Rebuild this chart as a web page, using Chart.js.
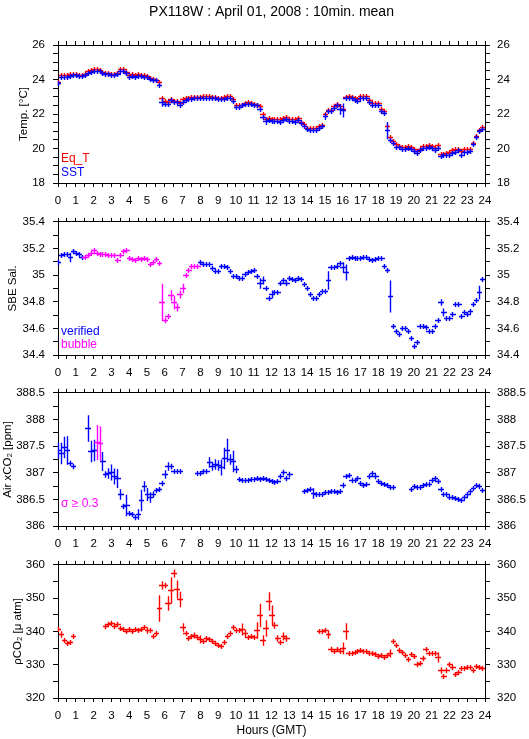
<!DOCTYPE html>
<html>
<head>
<meta charset="utf-8" />
<script src="https://cdn.jsdelivr.net/npm/chart.js@4.4.1/dist/chart.umd.min.js"></script>
<style>
  body { margin: 0; background: #fff; width: 529px; height: 739px; position: relative; overflow: hidden; }
  canvas { position: absolute; left: 0; }
</style>
</head>
<body>
<canvas id="temp" width="529" height="207" style="top:0px"></canvas>
<canvas id="sal" width="529" height="171" style="top:207px"></canvas>
<canvas id="xco2" width="529" height="172" style="top:378px"></canvas>
<canvas id="pco2" width="529" height="189" style="top:550px"></canvas>
<script>
// sample times, minutes since 00:00 GMT (10 min means)
const minutes = [
  0,10,20,30,40,50, 60,70,80,90,100,110, 120,130,140,150,160,170, 180,190,200,210,220,230,
  240,250,260,270,280,290, 300,310,320,330,340,350, 360,370,380,390,400,410, 420,430,440,450,460,470,
  480,490,500,510,520,530, 540,550,560,570,580,590, 600,610,620,630,640,650, 660,670,680,690,700,710,
  720,730,740,750,760,770, 780,790,800,810,820,830, 840,850,860,870,880,890, 900,910,920,930,940,950,
  960,970,980,990,1000,1010, 1020,1030,1040,1050,1060,1070, 1080,1090,1100,1110,1120,1130, 1140,1150,1160,1170,1180,1190,
  1200,1210,1220,1230,1240,1250, 1260,1270,1280,1290,1300,1310, 1320,1330,1340,1350,1360,1370, 1380,1390,1400,1410,1420,1430
];

// Eq_T [degC]
const eqtValues = [
  23.85,24.25,24.25,24.25,24.3,24.3,  24.3,24.25,24.25,24.3,24.5,24.55,  24.6,24.6,24.55,24.45,24.4,24.35,
  24.3,24.3,24.4,24.6,24.6,24.45,  24.25,24.3,24.25,24.3,24.25,24.25,  24.2,24.1,24.05,24.0,23.85,22.9,
  22.75,22.7,22.85,22.75,22.75,22.65,  22.85,22.9,22.95,23.0,23.0,23.0,  23.0,23.05,23.05,23.05,23.0,23.0,
  22.95,22.95,23.0,23.05,23.05,22.85,  22.5,22.5,22.55,22.65,22.7,22.65,  22.6,22.55,22.45,22.0,21.7,21.75,
  21.7,21.7,21.7,21.7,21.75,21.85,  21.7,21.7,21.7,21.75,21.55,21.4,  21.2,21.2,21.2,21.2,21.3,21.35,
  22.0,22.25,22.25,22.45,22.6,22.45,  22.3,23.0,23.05,23.0,22.9,22.85,  23.05,23.05,23.05,22.8,22.65,22.65,
  22.65,22.3,22.15,21.3,20.65,20.45,  20.25,20.15,20.1,20.1,20.15,20.1,  19.95,19.85,20.0,20.15,20.15,20.2,
  20.15,20.05,20.2,19.7,19.7,19.75,  19.8,19.9,20.0,20.0,19.85,19.95,  19.95,20.0,20.3,20.7,21.05,21.25
];
// SST [degC]
const sstValues = [
  23.8,24.15,24.15,24.15,24.2,24.25,  24.25,24.2,24.2,24.25,24.4,24.45,  24.5,24.5,24.5,24.4,24.3,24.3,
  24.25,24.25,24.3,24.5,24.5,24.4,  24.15,24.2,24.15,24.2,24.2,24.15,  24.15,24.05,24.0,23.95,23.7,22.7,
  22.6,22.6,22.8,22.7,22.7,22.55,  22.7,22.8,22.85,22.85,22.9,22.9,  22.9,22.9,22.95,22.95,22.95,22.9,
  22.85,22.85,22.85,22.95,22.9,22.75,  22.4,22.4,22.5,22.6,22.6,22.6,  22.5,22.5,22.3,21.85,21.6,21.65,
  21.6,21.6,21.6,21.55,21.65,21.7,  21.6,21.6,21.55,21.65,21.45,21.3,  21.15,21.1,21.1,21.1,21.2,21.3,
  21.9,22.2,22.2,22.35,22.5,22.3,  22.25,22.9,22.95,22.9,22.8,22.75,  22.95,22.95,22.95,22.7,22.5,22.5,
  22.5,22.2,22.05,21.1,20.5,20.3,  20.1,20.1,20.0,20.0,20.05,19.95,  19.85,19.75,19.9,20.05,20.05,20.1,
  20.05,19.9,20.05,19.55,19.6,19.6,  19.65,19.75,19.8,19.9,19.65,19.8,  19.8,19.85,20.25,20.65,21.0,21.15
];
const sstErr = [
  0,0,0,0,0,0,  0,0,0,0,0,0,  0,0,0,0,0,0,  0,0,0,0,0,0,  0,0,0,0,0,0,  0,0,0,0,0,0.25,
  0,0,0,0,0,0,  0,0,0,0,0,0,  0,0,0,0,0,0,  0,0,0,0,0,0,  0,0,0,0,0,0,  0,0,0,0,0.2,0,
  0.15,0,0,0,0,0,  0,0,0,0,0,0,  0,0,0,0,0,0,  0.2,0,0,0,0,0.3,  0.4,0,0,0,0,0,  0,0,0,0,0,0,
  0,0,0,0.5,0,0,  0,0,0,0,0,0,  0,0,0,0,0,0,  0,0.15,0,0,0,0,  0,0,0,0,0,0,  0,0,0,0.15,0,0
];

// SBE salinity, flag 1 = bubble
const salValues = [
  35.10,35.15,35.16,35.16,35.14,35.18,  35.17,35.16,35.14,35.14,35.15,35.17,  35.19,35.17,35.16,35.16,35.16,35.15,
  35.15,35.15,35.11,35.15,35.18,35.19,  35.13,35.12,35.11,35.13,35.12,35.13,  35.12,35.08,35.10,35.12,35.09,34.80,
  34.66,34.69,34.85,34.80,34.76,34.86,  34.90,35.00,35.04,35.07,35.07,35.07,  35.10,35.08,35.08,35.08,35.05,35.03,
  35.03,35.07,35.07,35.06,35.03,34.99,  34.99,34.98,34.98,35.01,35.02,35.03,  35.04,34.99,34.94,34.96,34.90,34.83,
  34.86,34.87,34.87,34.94,34.96,34.94,  34.98,34.97,34.96,34.98,34.97,34.93,  34.90,34.86,34.83,34.83,34.86,34.88,
  34.88,34.96,35.06,35.06,35.07,35.09,  35.06,35.02,35.13,35.14,35.13,35.13,  35.13,35.14,35.14,35.12,35.11,35.12,
  35.13,35.13,35.07,35.04,34.84,34.62,  34.58,34.56,34.60,34.60,34.58,34.53,  34.47,34.50,34.62,34.62,34.61,34.58,
  34.58,34.62,34.66,34.80,34.72,34.68,  34.68,34.71,34.78,34.78,34.69,34.72,  34.71,34.73,34.78,34.81,34.87,34.97
];
const salFlag = [
  0,0,0,0,0,0,  0,0,0,1,1,1,  1,1,1,1,1,1,  1,1,1,1,1,1,  1,1,1,1,1,1,  1,1,1,1,1,1,
  1,1,1,1,1,1,  1,1,1,1,1,1,  0,0,0,0,0,0,  0,0,0,0,0,0,  0,0,0,0,0,0,  0,0,0,0,0,0,
  0,0,0,0,0,0,  0,0,0,0,0,0,  0,0,0,0,0,0,  0,0,0,0,0,0,  0,0,0,0,0,0,  0,0,0,0,0,0,
  0,0,0,0,0,0,  0,0,0,0,0,0,  0,0,0,0,0,0,  0,0,0,0,0,0,  0,0,0,0,0,0,  0,0,0,0,0,0
];
const salErr = [
  0.02,0,0,0,0.035,0,  0,0,0,0,0,0,  0,0,0,0,0,0,  0,0,0,0,0,0,  0,0,0,0,0,0,  0,0,0,0,0,0.14,
  0.02,0.02,0.04,0.05,0.03,0.03,  0.035,0,0,0,0,0,  0,0,0,0,0,0,  0,0,0,0,0,0,  0,0,0,0,0,0,  0,0,0.04,0.03,0,0,
  0.03,0,0,0,0,0,  0,0,0,0,0,0,  0,0,0,0,0,0,  0,0.07,0,0,0,0,  0.04,0.06,0,0,0,0,  0,0,0,0,0,0,
  0,0,0,0,0.12,0,  0,0,0,0,0,0,  0,0,0,0,0,0,  0,0,0,0.025,0.03,0,  0,0,0,0,0,0,  0,0,0,0,0.05,0
];

// Air xCO2 [ppm], flag 1 = sigma >= 0.3
const xco2Values = [
  387.42,387.38,387.48,387.42,387.18,387.13,  null,null,null,null,387.85,387.40,  387.42,387.58,387.55,387.22,386.98,387.00,
  387.02,386.93,386.90,386.60,386.38,386.40,  386.25,386.22,386.17,386.23,386.48,386.75,  386.60,386.55,386.60,386.67,386.70,386.80,
  386.98,387.12,387.12,387.04,387.04,387.04,  null,null,null,null,null,387.00,  387.00,387.04,387.04,387.20,387.13,387.17,
  387.15,387.10,387.27,387.42,387.25,387.22,  387.07,386.88,386.86,386.86,386.86,386.88,  386.88,386.90,386.88,386.90,386.88,386.87,
  386.85,386.83,386.85,386.94,387.02,386.90,  386.98,null,null,null,null,386.66,  386.68,386.69,386.62,386.60,386.60,386.61,
  386.63,386.63,386.66,386.66,386.63,386.66,  386.77,386.93,386.95,386.87,386.86,386.90,  386.80,386.77,386.78,386.93,387.00,386.93,
  386.85,386.80,386.79,386.77,386.73,386.73,  null,null,null,null,null,386.70,  386.76,386.73,386.73,386.77,386.78,386.78,
  386.86,386.90,386.84,386.70,386.61,386.61,  386.55,386.55,386.52,386.51,386.48,386.55,  386.60,386.66,386.72,386.77,386.75,386.67
];
const xco2Flag = [
  0,0,0,0,0,0,  0,0,0,0,0,0,  0,1,1,0,0,0,  0,0,0,0,0,0,  0,0,0,0,0,0,  0,0,0,0,0,0,
  0,0,0,0,0,0,  0,0,0,0,0,0,  0,0,0,0,0,0,  0,0,0,0,0,0,  0,0,0,0,0,0,  0,0,0,0,0,0,
  0,0,0,0,0,0,  0,0,0,0,0,0,  0,0,0,0,0,0,  0,0,0,0,0,0,  0,0,0,0,0,0,  0,0,0,0,0,0,
  0,0,0,0,0,0,  0,0,0,0,0,0,  0,0,0,0,0,0,  0,0,0,0,0,0,  0,0,0,0,0,0,  0,0,0,0,0,0
];
const xco2Err = [
  0.15,0.2,0.2,0.27,0.05,0.05,  0,0,0,0,0.25,0.2,  0.2,0.33,0.32,0.18,0.06,0.1,
  0.15,0.15,0.18,0.1,0.05,0.2,  0.04,0.03,0.05,0.1,0.2,0.1,  0.12,0.1,0.06,0.03,0.03,0.05,
  0.08,0.08,0.05,0,0,0,  0,0,0,0,0,0.03,  0.03,0,0,0.1,0.08,0.1,
  0.1,0.15,0.2,0.22,0.1,0.2,  0.07,0.04,0,0,0.03,0,  0.03,0,0,0.03,0,0,
  0,0.03,0,0.05,0.05,0.05,  0.05,0,0,0,0,0,  0.03,0.04,0.1,0,0,0,
  0,0,0.04,0,0,0,  0.05,0.04,0.03,0.05,0.03,0.04,  0.04,0.04,0,0.05,0.04,0.05,
  0,0,0,0,0,0,  0,0,0,0,0,0.04,  0.04,0,0,0,0,0,
  0,0.04,0.04,0.04,0,0,  0,0,0,0,0,0.04,  0,0,0,0,0.05,0.04
];

// pCO2 [uatm]
const pco2Values = [
  340.6,339.2,337.5,336.6,336.9,338.6,  null,null,null,null,null,null,  null,null,null,null,341.5,342.2,
  342.5,341.6,342.1,340.9,340.7,340.0,  340.7,340.2,340.8,340.3,340.6,341.3,  340.3,340.4,338.5,339.4,347.0,354.0,
  354.0,348.5,352.5,357.5,352.9,349.7,  341.4,339.5,338.0,338.7,339.0,338.2,  337.7,337.2,338.1,337.8,337.2,336.5,
  336.0,335.7,336.7,338.6,339.6,341.2,  340.3,340.3,340.6,339.5,338.3,338.7,  338.3,340.3,345.0,337.4,341.0,349.1,
  344.8,342.0,338.0,336.9,338.7,338.0,  null,null,null,null,null,null,  null,null,null,null,340.0,340.2,
  340.4,339.2,334.8,334.2,334.8,334.0,  335.1,340.0,333.5,333.6,333.9,334.2,  334.3,334.0,334.0,333.4,333.4,333.1,
  332.7,333.0,332.2,332.8,333.6,337.0,  336.0,334.5,333.7,333.0,331.7,333.3,  332.5,330.3,330.6,331.9,334.6,333.4,
  333.6,333.5,332.2,328.5,326.6,328.4,  330.1,329.4,327.3,327.9,328.9,329.0,  329.3,329.3,328.4,329.5,329.4,328.9
];
const pco2Err = [
  0.6,1.0,0.5,0.4,0.4,0.3,  0,0,0,0,0,0,  0,0,0,0,0.8,0.8,
  0.8,0.4,0.8,0.4,0.4,0.7,  0.6,0.7,0.7,0.6,0.4,0.4,  1.0,0.6,0.6,0.8,4.0,1.3,
  0.8,2.2,4.0,1.2,2.7,2.3,  1.3,0.7,0.7,0.6,0.9,0.8,  1.2,0.6,0.3,0.3,0.3,0.3,
  0.5,0.6,0.4,0.4,0.8,0.4,  0.4,0.6,1.8,1.2,0.6,0.6,  0.4,2.5,3.5,1.6,2.5,2.8,
  3.0,1.0,1.0,0.5,1.2,1.0,  0,0,0,0,0,0,  0,0,0,0,0.3,0.3,
  0.5,1.3,0.8,0.5,0.7,0.3,  1.8,2.5,0.3,0.3,0.3,0.3,  0.3,0.3,0.3,0.3,0.3,0.3,
  0.3,0.3,0.3,0.3,1.2,0.3,  0.6,0.8,0.3,0.6,0.3,0.3,  0.3,0.8,0.6,0.8,0.7,0.3,
  0.3,0.3,1.5,1.0,0.3,0.8,  0.3,0.6,0.5,0.3,0.5,0.3,  0.3,0.3,0.6,0.3,0.3,0.3
];

const FONT = '"Liberation Sans", Arial, Helvetica, sans-serif';
Chart.defaults.font.family = FONT;
Chart.defaults.font.size = 11.5;
Chart.defaults.color = '#000';

const RED = '#ff0000', BLUE = '#0000ff', MAGENTA = '#ff00ff';

function points(values, errs, flags, want) {
  const out = [];
  values.forEach((v, i) => {
    if (v === null) return;
    if (flags && flags[i] !== want) return;
    out.push({ x: minutes[i] / 60, y: v, e: errs ? errs[i] : 0 });
  });
  return out;
}

// draws each 10 min mean as a cross: horizontal = averaging window, vertical = spread
const crossPlugin = {
  id: 'crosses',
  afterDatasetsDraw(chart) {
    const ctx = chart.ctx, xs = chart.scales.x, ys = chart.scales.y, a = chart.chartArea;
    const halfW = 0.13;
    ctx.save();
    ctx.lineWidth = 1.4;
    chart.data.datasets.forEach(ds => {
      ctx.strokeStyle = ds.borderColor;
      ctx.beginPath();
      ds.data.forEach(p => {
        const px = Math.round(xs.getPixelForValue(p.x)) + 0.5;
        const py = Math.round(ys.getPixelForValue(p.y)) + 0.5;
        const x0 = Math.max(a.left, Math.round(xs.getPixelForValue(p.x - halfW)));
        const x1 = Math.min(a.right, Math.round(xs.getPixelForValue(p.x + halfW)) + 1);
        const arm = Math.max(2.5, Math.abs(ys.getPixelForValue(p.y + p.e) - ys.getPixelForValue(p.y)));
        ctx.moveTo(x0, py); ctx.lineTo(x1, py);
        ctx.moveTo(px, py - arm); ctx.lineTo(px, py + arm);
      });
      ctx.stroke();
    });
    ctx.restore();
  }
};

const notesPlugin = {
  id: 'notes',
  afterDraw(chart, args, opts) {
    const ctx = chart.ctx, a = chart.chartArea;
    ctx.save();
    ctx.font = '12px ' + FONT;
    ctx.textBaseline = 'middle';
    (opts.lines || []).forEach(l => {
      ctx.fillStyle = l.color;
      ctx.fillText(l.text, a.left + 3, a.bottom - l.dy);
    });
    ctx.restore();
  }
};

function isMajor(v, step) {
  return Math.abs(v / step - Math.round(v / step)) < 1e-4;
}

function yAxis(position, c) {
  return {
    type: 'linear', axis: 'y', position: position, min: c.min, max: c.max,
    afterFit: s => { s.width = position === 'left' ? 58 : 44; },
    ticks: {
      stepSize: c.minor, autoSkip: false, padding: position === 'left' ? 8 : 7,
      callback: v => isMajor(v, c.major) ? String(parseFloat(v.toFixed(2))) : ''
    },
    grid: { drawOnChartArea: false, color: '#000', tickLength: 5 },
    border: { color: '#000', width: 1 },
    title: position === 'left'
      ? { display: true, text: c.title, padding: { top: c.titlePad, bottom: 0 } }
      : { display: false }
  };
}

function makePanel(id, c) {
  return new Chart(document.getElementById(id), {
    type: 'scatter',
    data: { datasets: c.datasets.map(d => Object.assign({ showLine: false, pointRadius: 0 }, d)) },
    options: {
      responsive: false,
      animation: false,
      events: [],
      layout: { padding: 0 },
      plugins: {
        legend: { display: false },
        tooltip: { enabled: false },
        title: c.mainTitle || { display: false },
        notes: { lines: c.notes || [] }
      },
      scales: {
        x: {
          type: 'linear', position: 'bottom', min: 0, max: 24,
          afterFit: s => { s.height = c.bottomH; },
          ticks: {
            stepSize: 0.5, autoSkip: false, maxRotation: 0, padding: 7,
            callback: v => Number.isInteger(v) ? String(v) : ''
          },
          grid: { drawOnChartArea: false, color: '#000', tickLength: 4 },
          border: { color: '#000', width: 1 },
          title: c.xTitle || { display: false }
        },
        xTop: {
          type: 'linear', axis: 'x', position: 'top', min: 0, max: 24,
          afterFit: s => { s.height = c.topH; },
          ticks: { stepSize: 0.5, display: false },
          grid: { drawOnChartArea: false, color: '#000', tickLength: 4 },
          border: { color: '#000', width: 1 }
        },
        y: yAxis('left', c.y),
        yRight: yAxis('right', c.y)
      }
    },
    plugins: [crossPlugin, notesPlugin]
  });
}

makePanel('temp', {
  topH: 10, bottomH: 24,
  mainTitle: {
    display: true, text: 'PX118W : April 01, 2008 : 10min. mean', fullSize: false,
    font: { size: 14, weight: 'normal' }, color: '#000', padding: { top: 3.6, bottom: 14.6 }
  },
  y: { min: 18, max: 26, minor: 0.5, major: 2, title: 'Temp. [°C]', titlePad: 17 },
  datasets: [
    { label: 'Eq_T', data: points(eqtValues, null), borderColor: RED },
    { label: 'SST', data: points(sstValues, sstErr), borderColor: BLUE }
  ],
  notes: [{ text: 'Eq_T', color: RED, dy: 24 }, { text: 'SST', color: BLUE, dy: 10 }]
});

makePanel('sal', {
  topH: 10, bottomH: 23,
  y: { min: 34.4, max: 35.4, minor: 0.1, major: 0.2, title: 'SBE Sal.', titlePad: 6 },
  datasets: [
    { label: 'verified', data: points(salValues, salErr, salFlag, 0), borderColor: BLUE },
    { label: 'bubble', data: points(salValues, salErr, salFlag, 1), borderColor: MAGENTA }
  ],
  notes: [{ text: 'verified', color: BLUE, dy: 23 }, { text: 'bubble', color: MAGENTA, dy: 10 }]
});

makePanel('xco2', {
  topH: 10, bottomH: 24,
  y: { min: 386, max: 388.5, minor: 0.25, major: 0.5, title: 'Air xCO₂ [ppm]', titlePad: 1 },
  datasets: [
    { label: 'xCO2', data: points(xco2Values, xco2Err, xco2Flag, 0), borderColor: BLUE },
    { label: 'sigma', data: points(xco2Values, xco2Err, xco2Flag, 1), borderColor: MAGENTA }
  ],
  notes: [{ text: 'σ ≥ 0.3', color: MAGENTA, dy: 22 }]
});

makePanel('pco2', {
  topH: 10, bottomH: 41,
  y: { min: 320, max: 360, minor: 5, major: 10, title: 'ρCO₂ [μ atm]', titlePad: 11 },
  xTitle: { display: true, text: 'Hours (GMT)', font: { size: 12 }, padding: { top: 0, bottom: 1 } },
  datasets: [
    { label: 'pCO2', data: points(pco2Values, pco2Err), borderColor: RED }
  ]
});
</script>
</body>
</html>
